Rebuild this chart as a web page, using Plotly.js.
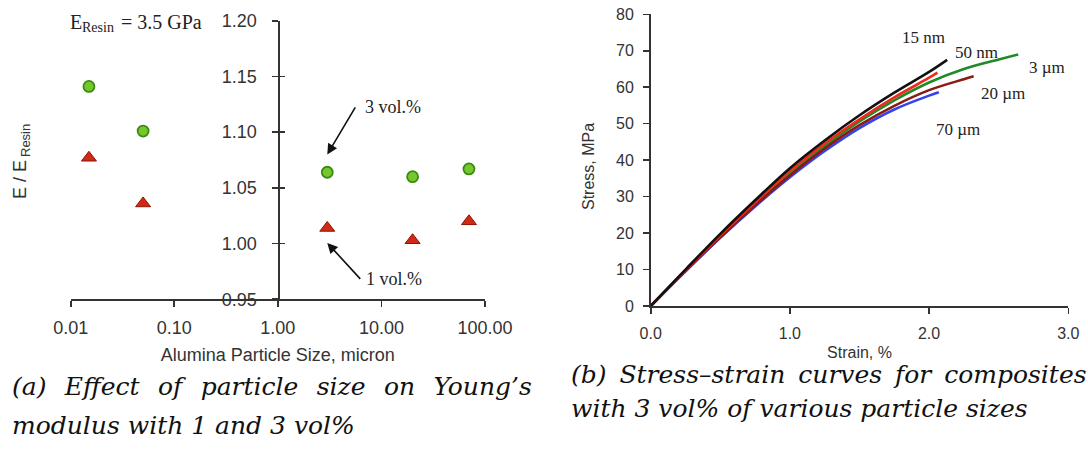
<!DOCTYPE html>
<html>
<head>
<meta charset="utf-8">
<script src="https://cdn.plot.ly/plotly-3.0.1.min.js"></script>
<style>html,body{margin:0;padding:0;background:#fff;}#chart{width:1088px;height:459px;}</style>
</head>
<body>
<div id="chart"></div>
<script>
// ---------- Data: (a) Young's modulus vs particle size ----------
const particleSizes = [0.015, 0.05, 3, 20, 70];           // micron
const ratio3vol = [1.141, 1.101, 1.064, 1.060, 1.067];   // E/E_resin, 3 vol%
const ratio1vol = [1.077, 1.036, 1.014, 1.003, 1.020];   // E/E_resin, 1 vol%
const xTickVals = [0.01, 0.1, 1, 10, 100];
const xTickText = ['0.01', '0.10', '1.00', '10.00', '100.00'];
const yTickVals = [0.95, 1.00, 1.05, 1.10, 1.15, 1.20];

// ---------- Data: (b) stress-strain curves, 3 vol% ----------
const strain15nm = [0, 0.25, 0.5, 0.75, 1.0, 1.25, 1.5, 1.75, 2.0, 2.13];
const stress15nm = [0, 10, 19.8, 29, 37.8, 45.4, 52.3, 58.5, 64.2, 67.5];
const strain50nm = [0, 0.25, 0.5, 0.75, 1.0, 1.25, 1.5, 1.75, 2.0, 2.06];
const stress50nm = [0, 9.8, 19.4, 28.4, 37, 44.6, 51.2, 57.2, 62.6, 64];
const strain3um = [0, 0.25, 0.5, 0.75, 1.0, 1.25, 1.5, 1.75, 2.0, 2.25, 2.5, 2.64];
const stress3um = [0, 9.7, 19, 27.8, 36.2, 43.8, 50.6, 56.4, 61.3, 65, 67.6, 69];
const strain20um = [0, 0.25, 0.5, 0.75, 1.0, 1.25, 1.5, 1.75, 2.0, 2.25, 2.32];
const stress20um = [0, 9.6, 18.9, 27.6, 35.8, 43.2, 49.6, 54.9, 59.2, 62.2, 63];
const strain70um = [0, 0.25, 0.5, 0.75, 1.0, 1.25, 1.5, 1.75, 2.0, 2.07];
const stress70um = [0, 9.5, 18.7, 27.3, 35.3, 42.5, 48.8, 53.9, 57.7, 58.6];
const curveNames = ['15 nm', '50 nm', '3 \u00b5m', '20 \u00b5m', '70 \u00b5m'];

const W = 1088, H = 459;
const px = v => v / W;
const py = v => 1 - v / H;

const axisCol = '#333';
const sans = 'Liberation Sans, Arial, sans-serif';
const serif = 'Liberation Serif, Times New Roman, serif';
const capFont = {family: 'DejaVu Serif', size: 25, style: 'italic', color: '#111'};

const traces = [
  {x: particleSizes, y: ratio3vol, xaxis: 'x', yaxis: 'y', mode: 'markers', name: '3 vol.%',
   marker: {symbol: 'circle', size: 11, color: '#74c82e', line: {color: '#3b8a12', width: 1.8}}},
  {x: particleSizes, y: ratio1vol, xaxis: 'x', yaxis: 'y3', mode: 'markers', name: '1 vol.%',
   marker: {symbol: 'triangle-up', size: 13, color: '#d12a14', line: {color: '#8e1408', width: 1}}},
  {x: strain70um, y: stress70um, xaxis: 'x2', yaxis: 'y2', mode: 'lines', name: curveNames[4],
   line: {color: '#3344ee', width: 2.6, shape: 'spline'}},
  {x: strain3um, y: stress3um, xaxis: 'x2', yaxis: 'y2', mode: 'lines', name: curveNames[2],
   line: {color: '#1f8a26', width: 2.6, shape: 'spline'}},
  {x: strain20um, y: stress20um, xaxis: 'x2', yaxis: 'y2', mode: 'lines', name: curveNames[3],
   line: {color: '#8a1a12', width: 2.6, shape: 'spline'}},
  {x: strain50nm, y: stress50nm, xaxis: 'x2', yaxis: 'y2', mode: 'lines', name: curveNames[1],
   line: {color: '#ee2a1c', width: 2.6, shape: 'spline'}},
  {x: strain15nm, y: stress15nm, xaxis: 'x2', yaxis: 'y2', mode: 'lines', name: curveNames[0],
   line: {color: '#111111', width: 2.6, shape: 'spline'}}
];

const leftYPos = px(278.3);
const baseAxis = {
  showgrid: false, zeroline: false, showline: true, linecolor: axisCol, linewidth: 1.6,
  ticks: 'outside', ticklen: 6, tickwidth: 1.6, tickcolor: axisCol
};

const note = (x, y, text, size, extra) => Object.assign({
  xref: 'paper', yref: 'paper', x: px(x), y: py(y), text: text, showarrow: false,
  xanchor: 'left', yanchor: 'middle', font: {family: serif, size: size, color: '#222'}
}, extra || {});

const layout = {
  width: W, height: H,
  margin: {l: 0, r: 0, t: 0, b: 0},
  paper_bgcolor: '#ffffff', plot_bgcolor: 'rgba(0,0,0,0)',
  showlegend: false,
  xaxis: Object.assign({}, baseAxis, {
    type: 'log', domain: [px(70.7), px(485)], range: [-2, 2], anchor: 'y',
    tickvals: xTickVals, ticktext: xTickText, ticklabelstandoff: 5,
    tickfont: {family: sans, size: 18, color: axisCol},
    title: {text: 'Alumina Particle Size, micron', font: {family: sans, size: 18, color: axisCol}, standoff: 12}
  }),
  yaxis: Object.assign({}, baseAxis, {
    domain: [py(299.3), py(20.7)], range: [0.95, 1.20], anchor: 'free', position: leftYPos,
    tickvals: yTickVals, tickformat: '.2f', ticklabelstandoff: 12,
    tickfont: {family: sans, size: 18, color: axisCol}
  }),
  yaxis3: {
    overlaying: 'y', anchor: 'free', position: leftYPos, range: [0.95, 1.20],
    tickvals: yTickVals, ticks: 'inside', ticklen: 6, tickwidth: 1.6, tickcolor: axisCol,
    showticklabels: false, showline: false, showgrid: false, zeroline: false
  },
  xaxis2: Object.assign({}, baseAxis, {
    domain: [px(650.7), px(1068.3)], range: [0, 3], anchor: 'y2',
    tickvals: [0, 1, 2, 3], tickformat: '.1f', ticklabelstandoff: 6,
    tickfont: {family: sans, size: 16, color: axisCol},
    title: {text: 'Strain, %', font: {family: sans, size: 16, color: axisCol}, standoff: 6}
  }),
  yaxis2: Object.assign({}, baseAxis, {
    domain: [py(306), py(14.3)], range: [0, 80], anchor: 'x2', dtick: 10, ticklabelstandoff: 6,
    tickfont: {family: sans, size: 16, color: axisCol}
  }),
  annotations: [
    // left y title: "E / E" with subscript "Resin"
    {xref: 'paper', yref: 'paper', x: px(20), y: py(180), text: 'E / E', textangle: -90,
     showarrow: false, xanchor: 'center', yanchor: 'middle', font: {family: sans, size: 18, color: axisCol}},
    {xref: 'paper', yref: 'paper', x: px(25), y: py(141), text: 'Resin', textangle: -90,
     showarrow: false, xanchor: 'center', yanchor: 'middle', font: {family: sans, size: 13, color: axisCol}},
    // right y title
    {xref: 'paper', yref: 'paper', x: px(588), y: py(167), text: 'Stress, MPa', textangle: -90,
     showarrow: false, xanchor: 'center', yanchor: 'middle', font: {family: sans, size: 16, color: axisCol}},
    // E resin note: E_Resin = 3.5 GPa
    note(68, 22, 'E', 20),
    note(80, 27, 'Resin', 14),
    note(119, 22, '= 3.5 GPa', 20),
    // arrows with their labels
    {xref: 'x', yref: 'y', x: Math.log10(particleSizes[2]), y: ratio3vol[2] + 0.016, text: '3 vol.%',
     showarrow: true, axref: 'pixel', ayref: 'pixel', ax: 28, ay: -47, xanchor: 'left', yanchor: 'middle',
     borderpad: 9, arrowhead: 2, arrowsize: 1.3, arrowwidth: 1.6, arrowcolor: '#111', standoff: 0,
     font: {family: serif, size: 18, color: '#222'}},
    {xref: 'x', yref: 'y', x: Math.log10(particleSizes[2]), y: ratio1vol[2] - 0.0134, text: '1 vol.%',
     showarrow: true, axref: 'pixel', ayref: 'pixel', ax: 33, ay: 36, xanchor: 'left', yanchor: 'middle',
     borderpad: 5, arrowhead: 2, arrowsize: 1.3, arrowwidth: 1.6, arrowcolor: '#111', standoff: 0,
     font: {family: serif, size: 18, color: '#222'}},
    // curve labels
    {xref: 'x2', yref: 'y2', x: 1.958, y: 73.7, text: curveNames[0], showarrow: false, font: {family: serif, size: 17, color: '#222'}},
    {xref: 'x2', yref: 'y2', x: 2.342, y: 69.6, text: curveNames[1], showarrow: false, font: {family: serif, size: 17, color: '#222'}},
    {xref: 'x2', yref: 'y2', x: 2.845, y: 65.4, text: curveNames[2], showarrow: false, font: {family: serif, size: 17, color: '#222'}},
    {xref: 'x2', yref: 'y2', x: 2.529, y: 58.3, text: curveNames[3], showarrow: false, font: {family: serif, size: 17, color: '#222'}},
    {xref: 'x2', yref: 'y2', x: 2.206, y: 48.5, text: curveNames[4], showarrow: false, font: {family: serif, size: 17, color: '#222'}},
    // captions
    {xref: 'paper', yref: 'paper', x: px(10), y: py(386), xanchor: 'left', yanchor: 'middle', showarrow: false,
     text: '(a) \u00a0\u200aEffect \u00a0\u200aof \u00a0\u200aparticle \u00a0\u200asize \u00a0\u200aon \u00a0\u200aYoung\u2019s',
     font: capFont},
    {xref: 'paper', yref: 'paper', x: px(10), y: py(425), xanchor: 'left', yanchor: 'middle', showarrow: false,
     text: 'modulus with 1 and 3 vol%', font: capFont},
    {xref: 'paper', yref: 'paper', x: px(569), y: py(374), xanchor: 'left', yanchor: 'middle', showarrow: false,
     text: '(b) \u2009Stress\u2013strain \u2009curves \u2009for \u2009composites', font: capFont},
    {xref: 'paper', yref: 'paper', x: px(569), y: py(408), xanchor: 'left', yanchor: 'middle', showarrow: false,
     text: 'with 3 vol% of various particle sizes', font: capFont}
  ]
};

Plotly.newPlot('chart', traces, layout, {staticPlot: true, displayModeBar: false});
</script>
</body>
</html>
